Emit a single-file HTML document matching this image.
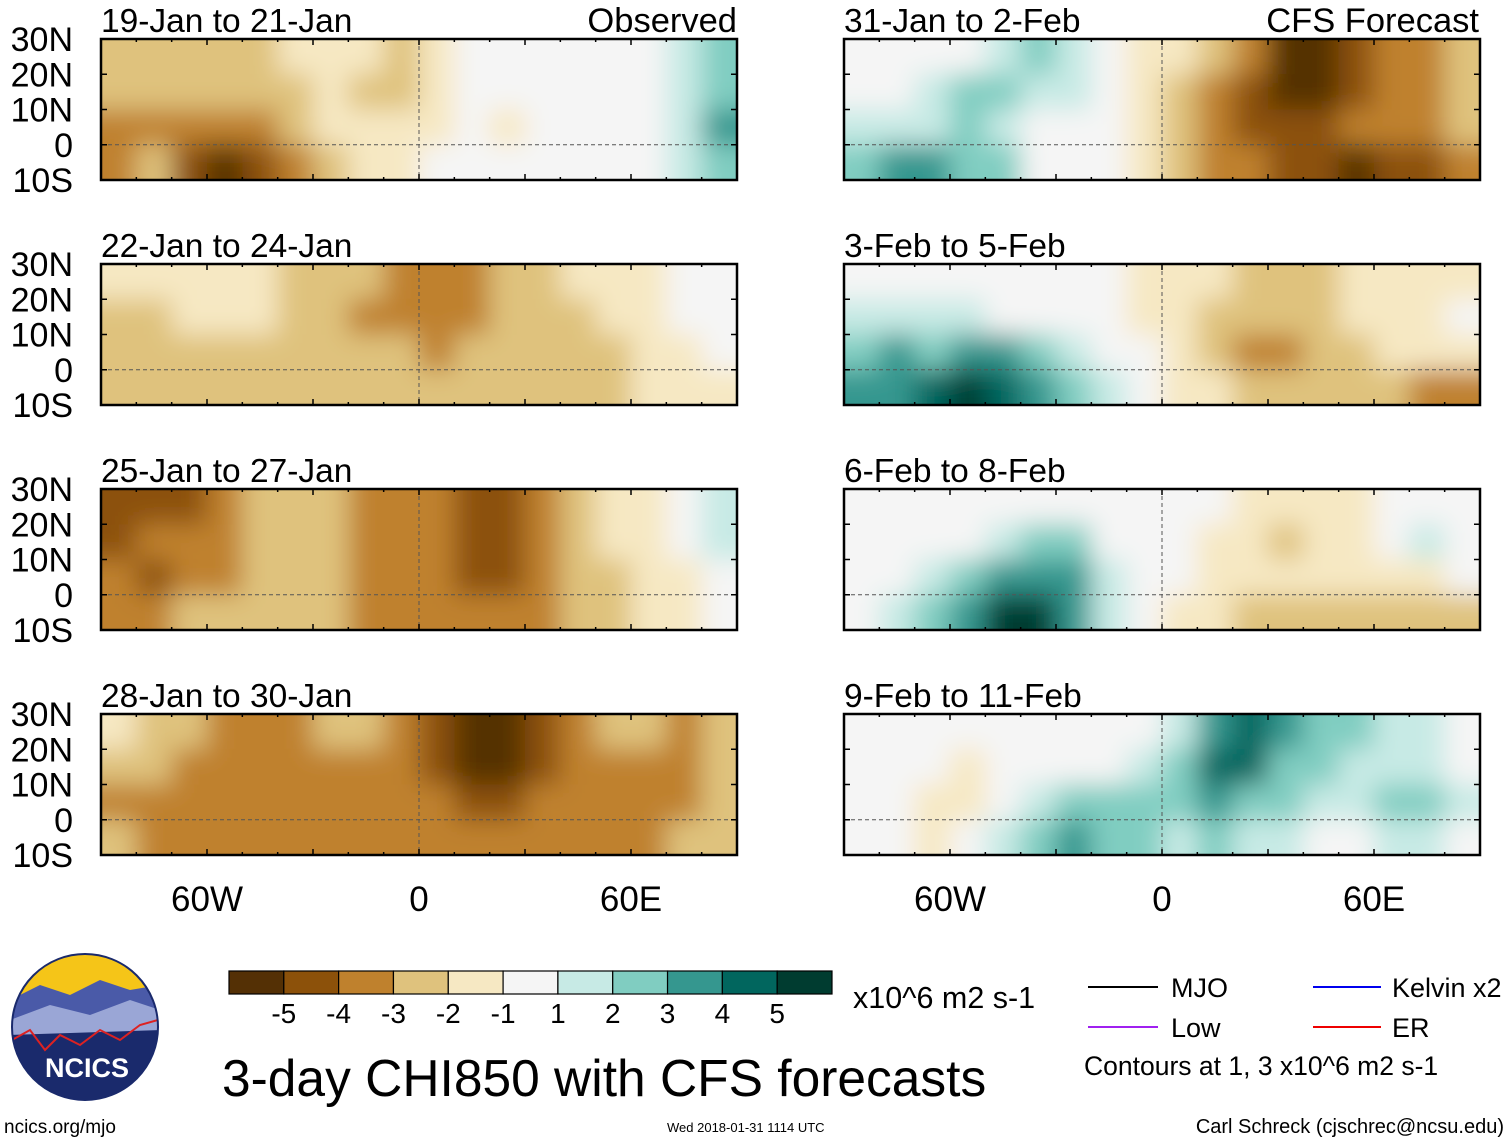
<!DOCTYPE html>
<html><head><meta charset="utf-8"><style>
html,body{margin:0;padding:0;background:#fff;}
svg{display:block;font-family:"Liberation Sans",Arial,sans-serif;}
</style></head><body>
<svg id="chart" width="1510" height="1142" viewBox="0 0 1510 1142" xmlns="http://www.w3.org/2000/svg">
<defs><filter id="blur" x="-10%" y="-20%" width="120%" height="140%"><feGaussianBlur stdDeviation="13"/></filter></defs>
<g id="panels"></g>
<g id="bottom"></g>
</svg>
<script>
const NS="http://www.w3.org/2000/svg";
const svg=document.getElementById('chart');
// ---- data ----
const levels=[-5,-4,-3,-2,-1,1,2,3,4,5];
const levelColors=["#543005","#8c510a","#bf812d","#dfc27d","#f6e8c3","#f5f5f5","#c7eae5","#80cdc1","#35978f","#01665e","#003c30"];
const cbLabels=["-5","-4","-3","-2","-1","1","2","3","4","5"];
const lonTicks=[-60,0,60];
const lonTickLabels=["60W","0","60E"];
const latTicks=[30,20,10,0,-10];
const latTickLabels=["30N","20N","10N","0","10S"];
const panelTitles=["19-Jan to 21-Jan","22-Jan to 24-Jan","25-Jan to 27-Jan","28-Jan to 30-Jan","31-Jan to 2-Feb","3-Feb to 5-Feb","6-Feb to 8-Feb","9-Feb to 11-Feb"];
const gridLons=[-85,-75,-65,-55,-45,-35,-25,-15,-5,5,15,25,35,45,55,65,75,85];
const gridLats=[25,15,5,-5];
const p1=[[-2.5,-2.5,-2.5,-3,-2.5,-2,-2,-2,-2.5,-2,0,0,0,0,0,0,1,2],[-3,-3,-2.5,-2.5,-2.5,-2.5,-2,-2.5,-3,-1.5,0,0,0,0,0,0,1.5,2.5],[-4,-3.5,-4,-4,-3.5,-3,-2,-2,-2,-1.5,-1,-2,-1,0,0,0,1.5,3],[-3.5,-3,-4.5,-5.5,-4.5,-3.5,-2.5,-2,-1.5,0,0,0,0,0,0,0,1.5,2]];
const p2=[[-2,-2,-2,-2,-2,-2.5,-2.5,-3,-3.5,-4,-3.5,-2.5,-2.5,-2,-2,-1.5,0,0.5],[-2.5,-2.5,-2,-2,-2,-2.5,-2.5,-3.5,-4,-4,-3.5,-2.5,-2.5,-2.5,-2,-2,-0.5,0.5],[-3,-2.5,-2.5,-2.5,-2.5,-2.5,-2.5,-3,-3,-3.5,-3,-2.5,-2.5,-2.5,-2.5,-2,-1.5,0],[-3,-3,-2.5,-2.5,-2.5,-2.5,-2.5,-2.5,-3,-3,-3,-3,-3,-2.5,-2.5,-2,-2,-1.5]];
const p3=[[-4.5,-4.5,-5,-3.5,-3,-2.5,-2.5,-3.5,-3.5,-4,-4.5,-5,-3.5,-2.5,-2,-1.5,0,1.5],[-4.5,-4,-4,-3.5,-3,-2.5,-3,-3.5,-3.5,-4,-4.5,-4.5,-4,-3,-2,-1.5,0,1.5],[-4,-4.5,-4,-3.5,-3,-3,-3,-3.5,-3.5,-4,-4.5,-4.5,-3.5,-3,-2.5,-2,-1.5,0],[-3.5,-3.5,-3,-2.5,-2.5,-3,-3,-3.5,-3.5,-3.5,-3.5,-3.5,-3.5,-3,-2.5,-2,-1.5,0.5]];
const p4=[[-2,-2.5,-3,-4,-3.5,-3.5,-3,-3,-3.5,-4.5,-5.5,-5.5,-4.5,-3.5,-3,-3,-3.5,-3],[-2.5,-3,-3.5,-4,-3.5,-3.5,-3.5,-3.5,-3.5,-4.5,-5.5,-5.5,-4.5,-3.5,-3.5,-3.5,-3.5,-3],[-3.5,-4,-4,-3.5,-3.5,-3.5,-3.5,-3.5,-3.5,-4,-4.5,-4.5,-4,-3.5,-3.5,-3.5,-3.5,-3],[-3,-3.5,-3.5,-3.5,-3.5,-3.5,-3.5,-3.5,-3.5,-3.5,-4,-4,-4,-3.5,-3.5,-3.5,-3,-2.5]];
const p5=[[0,0,0,0,1.5,2,1.5,0,-1.5,-2,-2.5,-4,-5.5,-5.5,-5,-4,-3.5,-2.5],[0,0,1.5,2,2,1.5,1,0,-1.5,-2.5,-3.5,-4.5,-5.5,-5.5,-4.5,-3.5,-3.5,-2.5],[1.5,1.5,1.5,2,1.5,0,0,0,-1.5,-2.5,-3.5,-4.5,-5,-4.5,-4,-3.5,-3.5,-3],[2.5,3,3,2.5,2,0,0,0,-2,-2.5,-3.5,-3.5,-4.5,-5,-5.5,-5,-4.5,-3.5]];
const p6=[[0,0,0,0,0,0,0,0,-1.5,-2,-2,-2.5,-3,-2.5,-2,-2,-1.5,-1.5],[1.5,1.5,1,1,0,0,0,0,-1.5,-2,-2.5,-3,-3,-2.5,-2,-2,-1.5,-1],[2.5,3,2.5,3,3.5,2.5,1.5,0,0,-1.5,-2.5,-3.5,-4,-3,-2.5,-2,-1.5,-2],[3,3.5,4,5,4.5,3.5,2,1,0,-1.5,-2,-3,-3,-2.5,-2.5,-3,-3.5,-3.5]];
const p7=[[0,0,0,0,0,0,0,0,0,0,0,-2,-2,-2,-1.5,0,0,0],[0,0,0,0,1.5,2.5,2,0,0,0,-1.5,-2,-2.5,-2,-1.5,0,1.5,0],[0,0,1.5,2.5,3,3.5,3.5,1.5,0,0,-1.5,-2,-2,-2,-2,-1.5,-1.5,0],[0,1.5,2.5,3.5,5,5.5,3.5,1.5,0,-1.5,-2,-2.5,-2.5,-3,-3,-3,-3,-3]];
const p8=[[0,0,0,0,0,0,0,0,0,1.5,3.5,4.5,3.5,2.5,2,1.5,1.5,0],[0,0,0,-1.5,0,0,0,0,1.5,2.5,4.5,4,2.5,2,1.5,1.5,1.5,0],[0,0,-2,-1.5,0,1.5,2.5,2.5,2,2,3,2.5,2,1.5,1.5,2.5,2,1],[0,0,-1.5,0,1.5,2.5,3,2.5,2,1.5,2,1.5,1,0,0,1,1.5,0]];
const fields=[p1,p2,p3,p4,p5,p6,p7,p8];

function mk(tag,attrs,parent){const e=document.createElementNS(NS,tag);for(const k in attrs)e.setAttribute(k,attrs[k]);(parent||svg).appendChild(e);return e;}
function colorOf(v){let i=0;while(i<levels.length&&v>=levels[i])i++;return levelColors[i];}
const PW=636,PH=141,LONMIN=-90,LONMAX=90,LATMIN=-10,LATMAX=30;
const lefts=[101,844],tops=[39,264,489,714];
const panelsG=document.getElementById('panels');
fields.forEach((f,pi)=>{
  const col=pi<4?0:1,row=pi%4;const x0=lefts[col],y0=tops[row];
  const xs=lon=>x0+(lon-LONMIN)/(LONMAX-LONMIN)*PW;
  const ys=lat=>y0+(LATMAX-lat)/(LATMAX-LATMIN)*PH;
  const g=mk('g',{},panelsG);
  
  
  const cid='clip'+pi;const cp=mk('clipPath',{id:cid},g);mk('rect',{x:x0,y:y0,width:PW,height:PH},cp);
  const cg=mk('g',{'clip-path':'url(#'+cid+')'},g);
  const bg=mk('g',{filter:'url(#blur)'},cg);
  f.forEach((r,ri)=>r.forEach((v,ci)=>{
    const lon=gridLons[ci],lat=gridLats[ri];
    let x1=xs(lon-5),x2=xs(lon+5),y1=ys(lat+5),y2=ys(lat-5);
    if(ci===0)x1-=30; if(ci===17)x2+=30; if(ri===0)y1-=30; if(ri===3)y2+=30;
    const rc=mk('rect',{x:x1,y:y1,width:(x2-x1)+0.5,height:(y2-y1)+0.5,fill:colorOf(v)},bg);
    
    
  }));
  mk('line',{x1:x0,x2:x0+PW,y1:ys(0),y2:ys(0),stroke:'#555','stroke-width':1,'stroke-dasharray':'4,3'},g);
  mk('line',{x1:xs(0),x2:xs(0),y1:y0,y2:y0+PH,stroke:'#555','stroke-width':1,'stroke-dasharray':'4,3'},g);
  const fr=mk('rect',{x:x0,y:y0,width:PW,height:PH,fill:'none',stroke:'#000','stroke-width':2.5},g);
  
  
  for(let lon=-90;lon<=90;lon+=10){const big=lon%30===0;const L=big?6:3;
    mk('line',{x1:xs(lon),x2:xs(lon),y1:y0,y2:y0+L,stroke:'#000','stroke-width':1.5},g);
    mk('line',{x1:xs(lon),x2:xs(lon),y1:y0+PH,y2:y0+PH-L,stroke:'#000','stroke-width':1.5},g);}
  latTicks.forEach(lat=>{mk('line',{x1:x0,x2:x0+6,y1:ys(lat),y2:ys(lat),stroke:'#000','stroke-width':1.5},g);mk('line',{x1:x0+PW,x2:x0+PW-6,y1:ys(lat),y2:ys(lat),stroke:'#000','stroke-width':1.5},g);});
  const t=mk('text',{x:x0,y:y0-7,'font-size':33.5},g);t.textContent=panelTitles[pi];
  
  
  if(col===0){latTicks.forEach((lat,i)=>{const tl=mk('text',{x:73,y:ys(lat)+12,'font-size':34,'text-anchor':'end'},g);tl.textContent=latTickLabels[i];
    
    });}
  if(row===3){lonTicks.forEach((lon,i)=>{const tl=mk('text',{x:xs(lon),y:911,'font-size':35,'text-anchor':'middle'},g);tl.textContent=lonTickLabels[i];
    
    });}
});
const o=mk('text',{x:737,y:32,'font-size':34.5,'text-anchor':'end'});o.textContent='Observed';


const c=mk('text',{x:1479,y:32,'font-size':34.5,'text-anchor':'end'});c.textContent='CFS Forecast';


const cb=mk('g',{},document.getElementById('bottom'));


const cbx=229,cbw=603/levelColors.length;
levelColors.forEach((col,i)=>{const r=mk('rect',{x:cbx+i*cbw,y:971,width:cbw,height:23,fill:col,stroke:'#000','stroke-width':1.2},cb);
  
  });
cbLabels.forEach((l,i)=>{const t=mk('text',{x:cbx+(i+1)*cbw,y:1023,'font-size':28,'text-anchor':'middle'},cb);t.textContent=l;
  
  });
</script>
<svg style="position:absolute;left:0;top:0" width="1510" height="1142" xmlns="http://www.w3.org/2000/svg" font-family="Liberation Sans, Arial, sans-serif">
<text x="853" y="1008" font-size="30.5">x10^6 m2 s-1</text>
<text x="222" y="1096" font-size="51.5">3-day CHI850 with CFS forecasts</text>
<g font-size="27">
<line x1="1088" y1="987" x2="1158" y2="987" stroke="#000" stroke-width="2"/><text x="1171" y="997">MJO</text>
<line x1="1313" y1="987" x2="1381" y2="987" stroke="#0000ee" stroke-width="2"/><text x="1392" y="997">Kelvin x2</text>
<line x1="1088" y1="1027" x2="1158" y2="1027" stroke="#a020f0" stroke-width="2"/><text x="1171" y="1037">Low</text>
<line x1="1313" y1="1027" x2="1381" y2="1027" stroke="#ee0000" stroke-width="2"/><text x="1392" y="1037">ER</text>
<text x="1084" y="1075" font-size="26.5">Contours at 1, 3 x10^6 m2 s-1</text>
</g>
<g>
<clipPath id="lc"><circle cx="85" cy="1027" r="73"/></clipPath>
<g clip-path="url(#lc)">
<rect x="10" y="952" width="150" height="150" fill="#1a2a6c"/>
<rect x="10" y="952" width="150" height="45" fill="#f5c518"/>
<path d="M10 1000 L40 985 L70 995 L100 980 L130 990 L160 985 L160 1030 L10 1030Z" fill="#4a5aa8"/>
<path d="M10 1020 L50 1005 L90 1015 L130 1000 L160 1010 L160 1030 L10 1035Z" fill="#9aa6d6"/>
<path d="M12 1040 L30 1030 L45 1050 L60 1035 L80 1045 L100 1030 L120 1040 L140 1025 L158 1020" stroke="#d22" stroke-width="2" fill="none"/>
</g>
<circle cx="85" cy="1027" r="73" fill="none" stroke="#1a2a6c" stroke-width="2"/>
<text x="87" y="1077" font-size="27" font-weight="bold" fill="#fff" text-anchor="middle">NCICS</text>
</g>
<text x="4" y="1133" font-size="19">ncics.org/mjo</text>
<text x="667" y="1132" font-size="13">Wed 2018-01-31 1114 UTC</text>
<text x="1504" y="1133" font-size="20" text-anchor="end">Carl Schreck (cjschrec@ncsu.edu)</text>
</svg>
</body></html>
